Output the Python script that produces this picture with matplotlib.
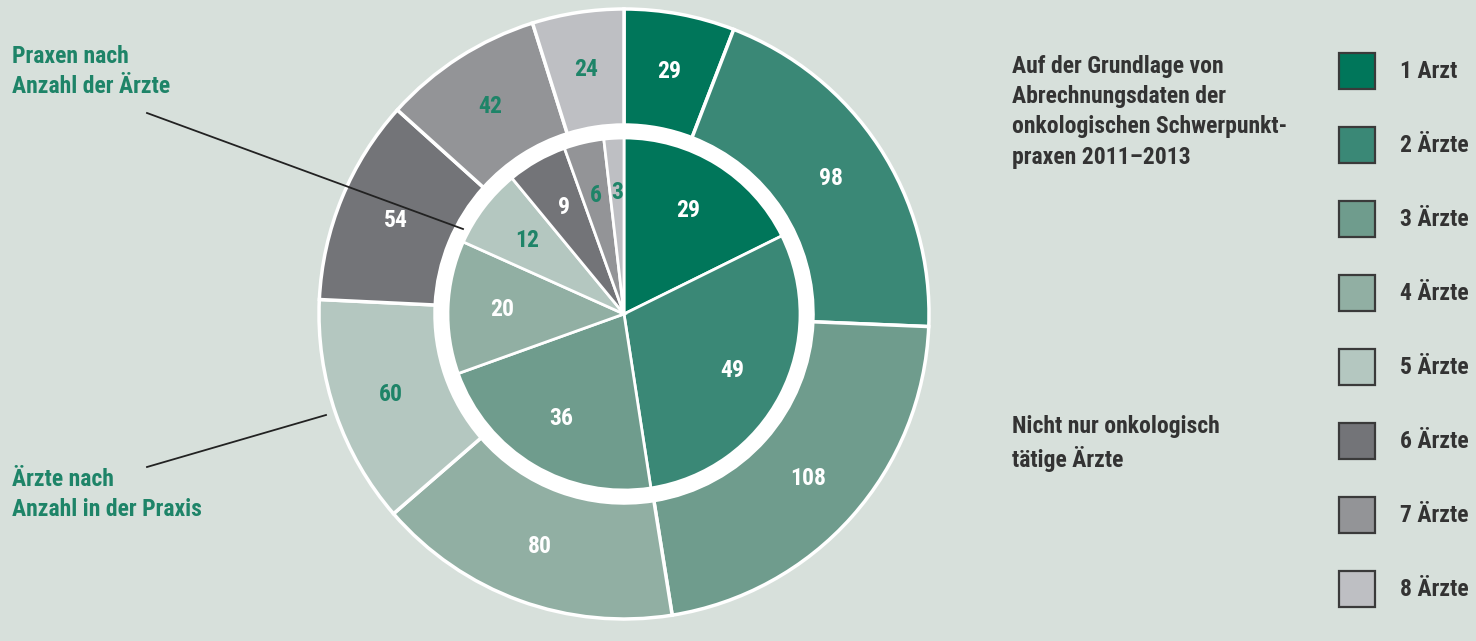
import matplotlib.pyplot as plt
from matplotlib import font_manager
from matplotlib.patches import Circle, Rectangle

# Praxen und Ärzte nach Praxisgröße
kategorien = ['1 Arzt', '2 Ärzte', '3 Ärzte', '4 Ärzte',
              '5 Ärzte', '6 Ärzte', '7 Ärzte', '8 Ärzte']
praxen = [29, 49, 36, 20, 12, 9, 6, 3]
aerzte = [29, 98, 108, 80, 60, 54, 42, 24]

farben = ['#00765a', '#3a8876', '#6f9c8d', '#91afa3',
          '#b4c7c0', '#737478', '#939497', '#bebfc3']
# Beschriftung hell oder grün, je nach Segment
txt_praxen = ['w', 'w', 'w', 'w', 'g', 'w', 'g', 'g']
txt_aerzte = ['w', 'w', 'w', 'w', 'g', 'w', 'g', 'g']

HG = '#d7e0db'
GRUEN = '#1e8468'
DUNKEL = '#333333'

# möglichst schmale Schrift
namen = {f.name for f in font_manager.fontManager.ttflist}
FAMILIE = 'DejaVu Sans'
for kandidat in ['Liberation Sans Narrow', 'Roboto Condensed',
                 'Open Sans Condensed', 'Roboto', 'Lato']:
    if kandidat in namen:
        FAMILIE = kandidat
        break
FONT = dict(family=FAMILIE, weight='bold')
GR = 17

W, H = 1476, 641
fig = plt.figure(figsize=(W / 100, H / 100), dpi=100, facecolor=HG)
ax = fig.add_axes([0, 0, 1, 1])
ax.set_facecolor(HG)


def Y(y):
    return H - y


cx, cy = 624, Y(314)

# äußerer Ring: Ärzte
w_out, t_out = ax.pie(aerzte, radius=305, center=(cx, cy), startangle=90,
                      counterclock=False, colors=farben,
                      labels=[str(v) for v in aerzte], labeldistance=247 / 305,
                      wedgeprops=dict(width=116, edgecolor='white', linewidth=2.5),
                      textprops=dict(ha='center', va='center', fontsize=GR, **FONT))

# weißer Trennring
ax.add_patch(Circle((cx, cy), 190, facecolor='white', edgecolor='none', zorder=1.5))

# innere Torte: Praxen
w_in, t_in = ax.pie(praxen, radius=176, center=(cx, cy), startangle=90,
                    counterclock=False, colors=farben,
                    labels=[str(v) for v in praxen], labeldistance=122 / 176,
                    wedgeprops=dict(edgecolor='white', linewidth=2),
                    textprops=dict(ha='center', va='center', fontsize=GR, **FONT))
for w in w_in:
    w.set_zorder(2)

for t, c in zip(t_out, txt_aerzte):
    t.set_color('white' if c == 'w' else GRUEN)
for t, c in zip(t_in, txt_praxen):
    t.set_color('white' if c == 'w' else GRUEN)
    t.set_zorder(3)

ax.set_xlim(0, W)
ax.set_ylim(0, H)
ax.set_aspect('equal')
ax.axis('off')

# Hinweistexte links mit Linien
ax.text(12, Y(45), 'Praxen nach\nAnzahl der Ärzte', color=GRUEN, fontsize=GR,
        va='top', ha='left', linespacing=1.4, **FONT)
ax.plot([147, 463], [Y(113), Y(229)], color='#222222', lw=1.3, zorder=4)

ax.text(12, Y(468), 'Ärzte nach\nAnzahl in der Praxis', color=GRUEN, fontsize=GR,
        va='top', ha='left', linespacing=1.4, **FONT)
ax.plot([147, 326], [Y(467), Y(415)], color='#222222', lw=1.3, zorder=4)

# Erläuterungen rechts
ax.text(1012, Y(55), 'Auf der Grundlage von\nAbrechnungsdaten der\n'
        'onkologischen Schwerpunkt-\npraxen 2011–2013',
        color=DUNKEL, fontsize=GR, va='top', ha='left', linespacing=1.4, **FONT)
ax.text(1012, Y(415), 'Nicht nur onkologisch\ntätige Ärzte',
        color=DUNKEL, fontsize=GR, va='top', ha='left', linespacing=1.4, **FONT)

# Legende
for i, (lab, col) in enumerate(zip(kategorien, farben)):
    ym = 71 + 74 * i
    ax.add_patch(Rectangle((1339, Y(ym + 18)), 36, 36, facecolor=col,
                           edgecolor='#3a3a3a', linewidth=1.6))
    ax.text(1400, Y(ym), lab, color=DUNKEL, fontsize=GR, va='center',
            ha='left', **FONT)

fig.savefig('out.png', dpi=100, facecolor=HG)
